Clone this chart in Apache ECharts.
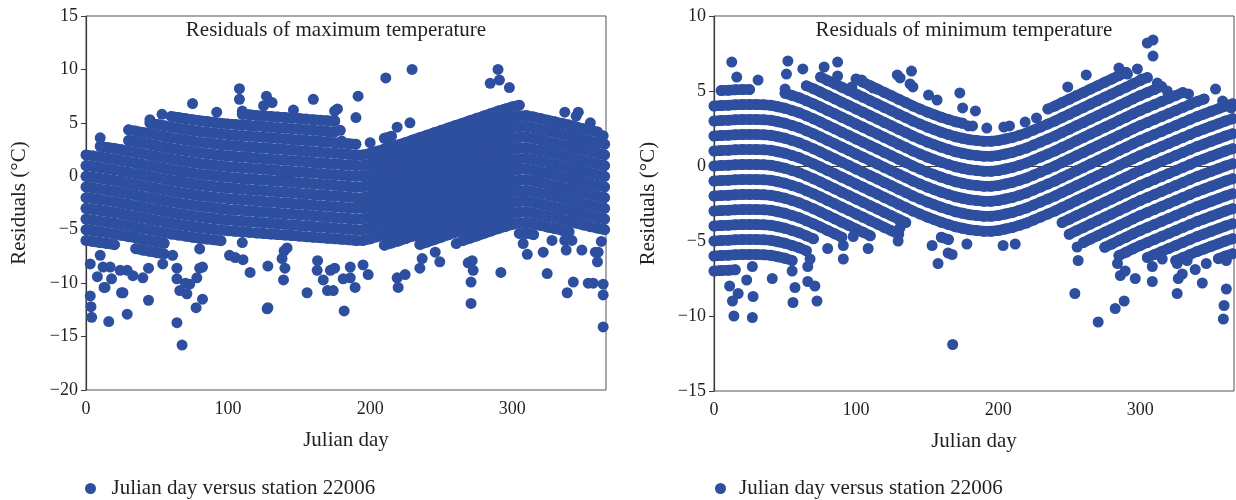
<!DOCTYPE html>
<html>
<head>
<meta charset="utf-8">
<script src="https://cdn.jsdelivr.net/npm/echarts@6/dist/echarts.min.js"></script>
<style>
  html, body { margin: 0; padding: 0; background: #fff; }
  #chart { width: 1236px; height: 500px; }
</style>
</head>
<body>
<div id="chart"></div>
<script>
// sample days (every 5 days) for the quantized residual stripes
var days = [0,5,10,15,20,25,30,35,40,45,50,55,60,65,70,75,80,85,90,95,100,105,110,115,120,125,130,135,140,145,150,155,160,165,170,175,180,185,190,195,200,205,210,215,220,225,230,235,240,245,250,255,260,265,270,275,280,285,290,295,300,305,310,315,320,325,330,335,340,345,350,355,360,365];

// integer levels of the stripes
var bandLevels = [-9,-8,-7,-6,-5,-4,-3,-2,-1,0,1,2,3,4,5,6,7,8,9];

// ---- maximum temperature (left) ----
var maxOffset = [0,-0.1,-0.2,-0.3,-0.4,-0.52,-0.65,-0.77,-0.9,-1.02,-1.15,-1.27,-1.4,-1.5,-1.6,-1.7,-1.8,-1.88,-1.95,-2.03,-2.1,-2.15,-2.2,-2.25,-2.3,-2.35,-2.4,-2.45,-2.5,-2.55,-2.6,-2.65,-2.7,-2.75,-2.8,-2.85,-2.9,-2.95,-3.0,-3.0,-2.85,-2.65,-2.45,-2.25,-2.05,-1.83,-1.6,-1.38,-1.15,-0.93,-0.7,-0.48,-0.25,-0.03,0.2,0.42,0.65,0.87,1.1,1.3,1.5,1.65,1.68,1.55,1.4,1.25,1.1,0.95,0.8,0.62,0.45,0.3,0.15,0];
var maxTop = [2.8,2.8,2.9,3.0,3.3,3.4,4.9,5.0,5.0,5.1,5.3,5.3,6.3,6.3,6.0,5.8,5.6,5.5,5.5,5.6,5.7,5.7,6.2,5.9,5.8,6.3,6.4,5.8,5.7,5.7,5.6,5.6,5.5,5.5,5.5,5.4,4.0,3.2,3.0,2.9,3.1,3.3,3.5,3.7,3.9,4.1,4.3,4.5,4.7,4.9,5.2,5.4,5.6,5.9,6.1,6.3,6.6,6.8,7.0,7.2,7.4,7.6,6.2,6.1,6.0,5.9,5.9,5.8,5.7,5.6,5.3,5.0,4.5,3.8];
var maxBottom = [-6.5,-7.0,-6.8,-6.5,-6.5,-6.3,-6.5,-7.0,-7.3,-7.5,-7.8,-7.3,-5.5,-5.7,-6.0,-6.5,-6.8,-6.8,-6.5,-6.0,-5.8,-6.0,-6.3,-6.0,-5.8,-5.6,-5.8,-6.2,-6.0,-5.8,-6.0,-6.3,-6.5,-6.3,-6.5,-6.6,-6.7,-6.5,-6.3,-6.0,-6.3,-6.6,-6.8,-6.7,-6.6,-6.7,-6.5,-6.7,-6.5,-6.0,-5.8,-5.5,-5.3,-6.0,-6.6,-6.4,-6.0,-5.6,-5.3,-5.2,-5.2,-5.3,-5.5,-5.6,-5.4,-5.3,-5.2,-5.2,-5.2,-5.3,-5.4,-5.5,-5.6,-5.6];
var maxOutliers = [
  [10,3.6],[45,5.3],[53.5,5.8],[75,6.8],[92,6.0],[108,8.2],[108,7.2],[110,6.1],[127,7.5],[131,6.9],[125,6.6],
  [146,6.2],[160,7.2],[175,6.1],[177,6.3],[175,5.2],[179,4.3],[180,3.3],[191.5,7.5],[190,5.5],[211,9.2],
  [229.5,10.0],[219,4.6],[228,5.0],[290,10.0],[284.5,8.7],[291,9.0],[298,8.3],[337,6.0],[346.5,6.0],[355,5.0],[364,3.8],
  [3,-8.2],[8,-9.4],[10,-7.4],[3,-11.2],[3.5,-12.2],[4,-13.2],[12.7,-10.4],[13.4,-10.4],[16,-13.6],[12,-8.5],[17,-8.5],
  [18,-9.6],[25,-10.9],[26,-10.9],[29,-12.9],[24,-8.8],[29,-8.8],[33,-9.3],[40,-9.5],[44,-8.6],[44,-11.6],[54,-8.2],
  [61,-7.4],[64,-8.6],[64,-9.6],[66,-10.7],[71,-11.0],[70,-10.0],[73,-10.1],[78,-9.5],[80,-8.6],[82,-8.5],
  [64,-13.7],[67.6,-15.8],[77.5,-12.3],[82,-11.5],[101,-7.4],[105,-7.6],[110.5,-7.8],[115.5,-9.0],[127.5,-12.4],[128,-12.3],
  [128,-8.4],[138,-7.7],[139.4,-7.0],[141.5,-6.7],[140,-8.6],[139,-9.7],[155.6,-10.9],[162.7,-8.8],[167,-9.7],
  [170,-10.7],[174,-10.7],[172,-8.8],[163,-7.9],[181.7,-12.6],[175,-8.6],[181,-9.6],[186,-9.5],[189.4,-10.4],
  [186,-8.5],[195,-8.3],[198.6,-9.2],[219.7,-10.4],[219,-9.5],[224.6,-9.2],[235,-8.6],[236.6,-7.7],[249,-8.0],
  [245.8,-7.1],[260.6,-6.3],[269,-8.1],[271.8,-7.9],[272.5,-8.8],[271,-9.9],[271,-11.9],[292,-9.0],[307.7,-6.3],
  [310.6,-7.3],[321.8,-7.1],[324.6,-9.1],[328,-6.0],[337,-6.0],[342,-6.0],[338,-6.9],[349,-6.9],[358.5,-7.1],
  [360.5,-7.1],[360,-8.0],[362.7,-6.1],[343,-9.9],[338.7,-10.9],[353.5,-10.0],[357,-10.0],[364,-10.1],[364,-11.1],[364,-14.1]
];

// ---- minimum temperature (right) ----
var minOffset = [0,0.03,0.05,0.08,0.1,0.1,0.1,0.08,0.05,-0.05,-0.15,-0.3,-0.45,-0.65,-0.85,-1.07,-1.3,-1.52,-1.75,-1.97,-2.2,-2.42,-2.65,-2.87,-3.1,-3.32,-3.55,-3.77,-4.0,-4.2,-4.4,-4.58,-4.75,-4.9,-5.05,-5.15,-5.25,-5.3,-5.35,-5.35,-5.3,-5.2,-5.1,-4.95,-4.8,-4.6,-4.4,-4.2,-4.0,-3.77,-3.55,-3.32,-3.1,-2.87,-2.65,-2.42,-2.2,-1.97,-1.75,-1.52,-1.3,-1.1,-0.9,-0.7,-0.5,-0.3,-0.1,0.1,0.3,0.47,0.65,0.82,1.0,1.15];
var minTop = [4.2,5.1,5.1,5.1,5.1,5.1,4.5,4.5,4.5,4.5,4.8,4.8,5.3,5.5,5.7,5.9,5.9,5.8,5.9,5.9,5.8,5.7,5.6,5.4,5.2,5.0,5.0,4.8,4.6,4.4,4.3,4.2,4.0,3.6,3.2,2.8,2.5,2.3,2.2,2.2,2.3,2.4,2.7,2.9,3.1,3.3,3.5,3.8,4.1,4.3,4.5,4.7,4.9,5.2,5.5,5.7,5.9,6.0,6.3,6.3,6.3,6.2,6.0,5.6,5.3,5.0,4.9,4.8,4.8,4.7,4.6,4.5,4.3,4.2];
var minBottom = [-7.0,-7.0,-7.0,-7.0,-6.8,-6.5,-6.3,-6.3,-6.5,-6.8,-6.8,-6.5,-6.3,-6.0,-5.2,-5.0,-5.0,-5.0,-4.9,-4.8,-4.8,-4.8,-4.8,-4.8,-4.8,-4.8,-4.5,-4.0,-3.8,-3.7,-3.8,-4.3,-4.8,-5.2,-4.8,-4.5,-4.4,-4.3,-4.3,-4.3,-4.3,-4.4,-4.2,-4.0,-3.8,-3.7,-3.7,-3.8,-3.9,-4.4,-4.8,-5.0,-5.2,-5.4,-5.5,-5.6,-5.8,-6.0,-6.0,-6.0,-6.0,-6.2,-6.3,-6.2,-6.1,-6.3,-6.3,-6.0,-6.0,-6.0,-6.2,-6.3,-6.3,-6.0];
var minOutliers = [
  [12.5,6.93],[16,5.93],[31,5.73],[52,7.0],[51,6.13],[50,5.13],[62.5,6.47],[77.5,6.6],[87,6.93],[87,6.0],[97,5.27],
  [104,5.73],[112,5.2],[129,6.07],[131,5.87],[139,6.33],[138,5.47],[140,5.27],[151,4.73],[157,4.4],[173,4.87],
  [175,3.87],[179,2.67],[184,3.67],[182,2.67],[192,2.53],[204,2.6],[208,2.67],[219,2.93],[227,3.2],[249,5.27],
  [262,6.07],[285,6.53],[291,6.13],[298,6.47],[305,8.2],[309,8.4],[309,7.33],[301,5.8],[312,5.53],[319,5.0],
  [334,4.8],[353,5.13],[358,4.33],[364,3.87],
  [11,-8.0],[17,-8.5],[13,-9.0],[27.5,-8.7],[14,-10.0],[27,-10.1],[23,-7.6],[41,-7.5],[27,-6.7],[55,-7.0],[57,-8.1],
  [55.6,-9.1],[66,-7.7],[71,-8.0],[72.5,-9.0],[66,-6.7],[67.6,-6.2],[80,-5.5],[91,-5.3],[91,-6.2],[98,-4.7],
  [108.5,-5.5],[129.6,-5.0],[131,-4.1],[153.5,-5.3],[157.7,-6.5],[164.8,-5.8],[167.6,-5.9],[168,-11.9],[178,-5.2],
  [203.5,-5.3],[212,-5.2],[255.6,-5.4],[256.3,-6.3],[254,-8.5],[284,-6.5],[286,-7.3],[289.4,-7.0],[296.5,-7.5],
  [288.7,-9.0],[282.4,-9.5],[270.4,-10.4],[308.5,-6.7],[308.5,-7.7],[315.5,-6.2],[326,-6.5],[333,-6.3],[329.6,-7.2],
  [326.8,-7.5],[326,-8.5],[338.7,-6.9],[343.7,-7.8],[346.5,-6.5],[360.6,-6.3],[360.6,-8.2],[359,-9.3],[358.5,-10.2]
];

var seriesName = 'Julian day versus station 22006';
var dotColor = '#2e4f9f';
var txtColor = '#231f20';
var serif = 'Liberation Serif';

function inBand(offset, top, bottom, i, level) {
  var y = level + offset[i];
  return y >= bottom[i] - 0.05 && y <= top[i] + 0.05;
}

function buildPoints(offset, top, bottom, outliers) {
  var pts = [];
  for (var i = 0; i < days.length; i++) {
    for (var j = 0; j < bandLevels.length; j++) {
      if (inBand(offset, top, bottom, i, bandLevels[j])) {
        pts.push([days[i], Math.round((bandLevels[j] + offset[i]) * 100) / 100]);
      }
    }
  }
  for (var k = 0; k < outliers.length; k++) pts.push(outliers[k]);
  return pts;
}

// stripes: the daily points of one temperature level run together into a band
function buildStripes(offset, top, bottom, gridIdx) {
  var out = [];
  bandLevels.forEach(function (level) {
    var data = [], count = 0;
    for (var i = 0; i < days.length; i++) {
      if (inBand(offset, top, bottom, i, level)) {
        data.push([days[i], Math.round((level + offset[i]) * 100) / 100]);
        count++;
      } else {
        data.push('-');
      }
    }
    if (count < 2) return;
    out.push({
      type: 'line', xAxisIndex: gridIdx, yAxisIndex: gridIdx, data: data,
      symbol: 'none', silent: true, connectNulls: false, z: 1,
      lineStyle: { color: dotColor, width: 10.5, cap: 'round', join: 'round' }
    });
  });
  return out;
}

function minusFmt(v) {
  return String(v).replace('-', '\u2212');
}

function xAxisOf(idx) {
  return {
    type: 'value', gridIndex: idx, min: 0, max: 366, interval: 100,
    name: 'Julian day', nameLocation: 'middle', nameGap: 40,
    nameTextStyle: { fontFamily: serif, fontSize: 21, color: txtColor },
    axisLine: { lineStyle: { color: '#3a3a3a', width: 1.2 } },
    axisTick: { length: 5, lineStyle: { color: '#3a3a3a' } },
    axisLabel: { fontFamily: serif, fontSize: 18, color: txtColor, margin: 10, showMaxLabel: false },
    splitLine: { show: false }
  };
}

function yAxisOf(idx, min, max, gap) {
  return {
    type: 'value', gridIndex: idx, min: min, max: max, interval: 5,
    name: 'Residuals (\u00b0C)', nameLocation: 'middle', nameGap: gap,
    nameTextStyle: { fontFamily: serif, fontSize: 21, color: txtColor },
    axisLine: { show: true, lineStyle: { color: '#3a3a3a', width: 1.2 } },
    axisTick: { show: true, length: 5, lineStyle: { color: '#3a3a3a' } },
    axisLabel: { fontFamily: serif, fontSize: 18, color: txtColor, margin: 8, formatter: minusFmt },
    splitLine: { show: false }
  };
}

var chart = echarts.init(document.getElementById('chart'), null, { renderer: 'canvas' });

var series = [
  { name: seriesName, type: 'scatter', xAxisIndex: 0, yAxisIndex: 0, symbolSize: 11, z: 2,
    itemStyle: { color: dotColor, opacity: 1 },
    data: buildPoints(maxOffset, maxTop, maxBottom, maxOutliers) },
  { name: seriesName, type: 'scatter', xAxisIndex: 1, yAxisIndex: 1, symbolSize: 11, z: 2,
    itemStyle: { color: dotColor, opacity: 1 },
    data: buildPoints(minOffset, minTop, minBottom, minOutliers) }
].concat(buildStripes(maxOffset, maxTop, maxBottom, 0), buildStripes(minOffset, minTop, minBottom, 1));

var option = {
  animation: false,
  backgroundColor: '#fff',
  title: [
    { text: 'Residuals of maximum temperature', left: 331, top: 15, textAlign: 'center',
      textStyle: { fontFamily: serif, fontSize: 21, fontWeight: 'normal', color: txtColor } },
    { text: 'Residuals of minimum temperature', left: 959, top: 15, textAlign: 'center',
      textStyle: { fontFamily: serif, fontSize: 21, fontWeight: 'normal', color: txtColor } }
  ],
  legend: [
    { data: [seriesName], left: 80, top: 473, icon: 'circle', itemWidth: 32, itemHeight: 11,
      textStyle: { fontFamily: serif, fontSize: 21, color: txtColor } },
    { data: [seriesName], left: 710, top: 473, icon: 'circle', itemWidth: 27, itemHeight: 11,
      textStyle: { fontFamily: serif, fontSize: 21, color: txtColor } }
  ],
  grid: [
    { left: 86, top: 16, width: 520, height: 374, show: true, borderColor: '#555', borderWidth: 1 },
    { left: 714, top: 16, width: 520, height: 375, show: true, borderColor: '#555', borderWidth: 1 }
  ],
  xAxis: [xAxisOf(0), xAxisOf(1)],
  yAxis: [yAxisOf(0, -20, 15, 56), yAxisOf(1, -15, 10, 55)],
  series: series
};

chart.setOption(option);
</script>
</body>
</html>
